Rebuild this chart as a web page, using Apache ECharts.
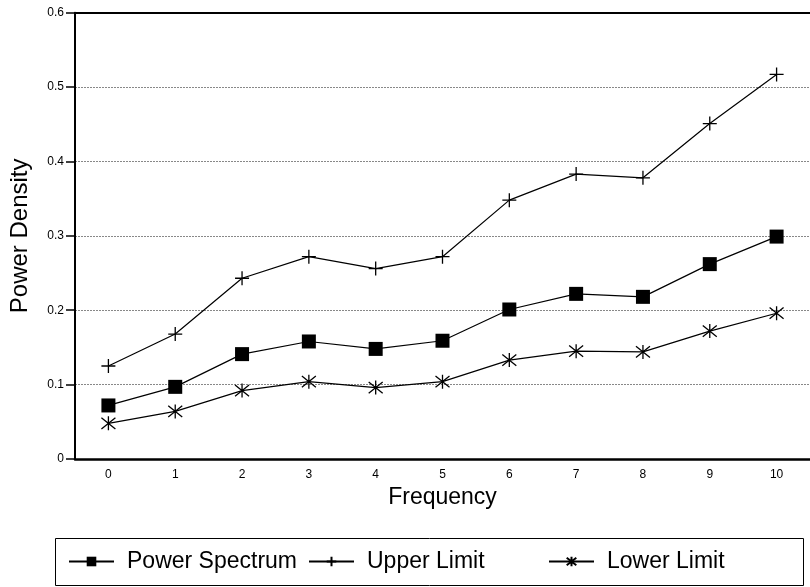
<!DOCTYPE html>
<html>
<head>
<meta charset="utf-8">
<script src="https://cdn.jsdelivr.net/npm/echarts@6/dist/echarts.min.js"></script>
<style>html,body{margin:0;padding:0;background:#fff;}#c{width:810px;height:587px;}</style>
</head>
<body>
<div id="c"></div>
<script>
const categories = ['0','1','2','3','4','5','6','7','8','9','10'];
const powerSpectrum = [0.072,0.097,0.141,0.158,0.148,0.159,0.201,0.222,0.218,0.262,0.299];
const upperLimit = [0.125,0.168,0.243,0.272,0.256,0.272,0.348,0.383,0.378,0.451,0.517];
const lowerLimit = [0.048,0.064,0.092,0.104,0.096,0.104,0.133,0.145,0.144,0.172,0.196];
const seriesNames = ['Power Spectrum','Upper Limit','Lower Limit'];

const FONT = '"Liberation Sans", Arial, Helvetica, sans-serif';
const chart = echarts.init(document.getElementById('c'), null, {renderer:'canvas'});
const plusPath = 'path://M0,-10 L0,10 M-10,0 L10,0';
const starPath = 'path://M0,-10 L0,10 M-8,-8 L8,8 M-8,8 L8,-8';
const lineStyle = {color:'#000', width:1.2};
const legendLefts = [68, 308, 548];
const legends = seriesNames.map((n, i) => ({
  data:[n], left:legendLefts[i], top:550, orient:'horizontal',
  itemWidth:45, itemHeight:12, padding:0,
  textStyle:{fontSize:23, color:'#000', fontFamily:FONT, padding:[0,0,0,8]}
}));
chart.setOption({
  animation:false,
  backgroundColor:'#fff',
  textStyle:{fontFamily:FONT, color:'#000'},
  grid:{left:72, top:12.7, width:744.4, height:446.3, containLabel:false},
  xAxis:[{
    type:'category', data:categories, boundaryGap:true,
    axisLine:{lineStyle:{color:'#000', width:2.5}},
    axisTick:{alignWithLabel:true, length:7, lineStyle:{color:'#444', width:1}},
    axisLabel:{fontSize:12, color:'#000', margin:10, fontFamily:FONT},
    name:'Frequency', nameLocation:'middle', nameGap:27,
    nameTextStyle:{fontSize:23, color:'#000', fontFamily:FONT}
  },{
    type:'category', data:categories, position:'top',
    axisLine:{onZero:false, lineStyle:{color:'#000', width:2}},
    axisTick:{show:false}, axisLabel:{show:false}, splitLine:{show:false}
  }],
  yAxis:{
    type:'value', min:0, max:0.6, interval:0.1,
    axisLine:{show:true, lineStyle:{color:'#000', width:2}},
    axisTick:{show:true, length:9, lineStyle:{color:'#000', width:1.5}},
    axisLabel:{fontSize:12, color:'#000', margin:11, fontFamily:FONT,
      formatter:v => v === 0 ? '0' : v.toFixed(1)},
    splitLine:{show:true, lineStyle:{type:[2,1], color:'#888', width:1}},
    name:'Power Density', nameLocation:'middle', nameGap:43,
    nameTextStyle:{fontSize:24, color:'#000', fontFamily:FONT}
  },
  legend:legends,
  graphic:[{
    type:'rect', silent:true, z:100,
    shape:{x:55.5, y:538.5, width:748, height:47},
    style:{fill:'none', stroke:'#000', lineWidth:1}
  }],
  series:[{
    name:seriesNames[0], type:'line', data:powerSpectrum,
    symbol:'rect', symbolSize:14, showAllSymbol:true,
    lineStyle:lineStyle, itemStyle:{color:'#000'}
  },{
    name:seriesNames[1], type:'line', data:upperLimit,
    symbol:plusPath, symbolSize:14, showAllSymbol:true,
    lineStyle:lineStyle, itemStyle:{color:'#000', borderColor:'#000', borderWidth:1.3}
  },{
    name:seriesNames[2], type:'line', data:lowerLimit,
    symbol:starPath, symbolSize:14, showAllSymbol:true,
    lineStyle:lineStyle, itemStyle:{color:'#000', borderColor:'#000', borderWidth:1.3}
  }]
});
</script>
</body>
</html>
